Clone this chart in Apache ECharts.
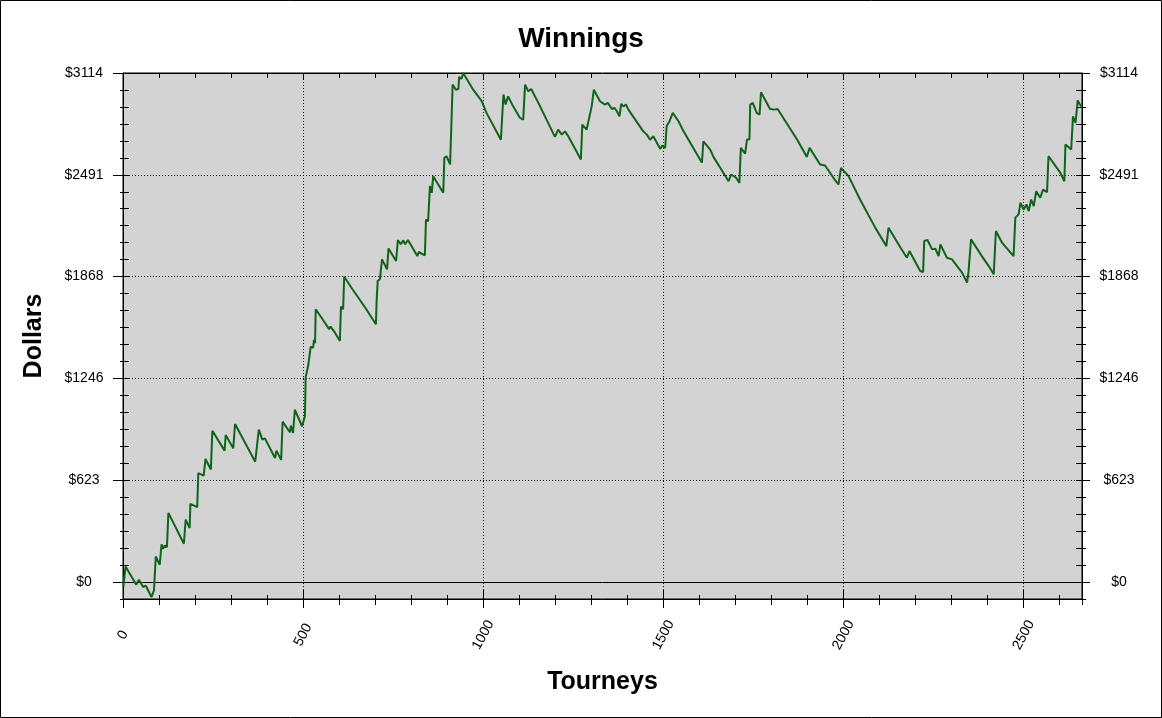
<!DOCTYPE html>
<html><head><meta charset="utf-8">
<script src="https://cdn.jsdelivr.net/npm/echarts@6/dist/echarts.min.js"></script>
<style>html,body{margin:0;padding:0;background:#fff}#c{width:1162px;height:718px}</style>
</head><body><div id="c"></div>
<script>
const chartTitle = 'Winnings';
const xName = 'Tourneys';
const yName = 'Dollars';
const tourneys = [1,7,37,44,56,63,72,79,86,90,91,102,107,111,116,122,126,169,174,185,187,206,209,224,229,244,248,282,285,306,311,367,377,387,394,422,426,439,443,463,466,472,477,497,505,507,511,514,519,521,528,530,533,535,539,560,572,576,588,602,605,611,614,637,642,674,678,702,704,707,713,719,733,737,758,763,771,778,783,791,817,821,838,841,847,852,857,861,889,892,898,908,915,924,931,933,940,944,958,972,986,996,1009,1049,1056,1062,1069,1083,1102,1111,1116,1125,1133,1153,1199,1208,1218,1227,1236,1271,1275,1287,1301,1307,1324,1338,1346,1357,1364,1371,1378,1383,1389,1396,1403,1444,1454,1463,1472,1491,1497,1505,1509,1517,1526,1542,1556,1607,1611,1630,1639,1681,1688,1702,1711,1715,1727,1732,1739,1741,1748,1759,1767,1771,1796,1808,1817,1833,1871,1898,1906,1935,1949,1972,1986,1993,2014,2046,2088,2119,2125,2158,2176,2183,2213,2221,2224,2233,2246,2255,2264,2269,2287,2301,2329,2343,2347,2354,2384,2406,2409,2417,2423,2440,2472,2477,2486,2491,2500,2508,2514,2521,2528,2535,2546,2554,2565,2569,2602,2613,2616,2632,2637,2644,2650,2656,2661];
const dollars = [-31,95,-16,14,-31,-21,-61,-92,-51,-61,156,106,230,203,223,214,423,234,382,330,478,458,666,651,753,688,926,804,899,818,967,736,932,871,879,759,804,747,981,916,956,912,1054,953,1014,1252,1246,1323,1313,1439,1435,1481,1461,1669,1669,1588,1547,1563,1527,1475,1685,1669,1868,1791,1801,1673,1665,1577,1719,1842,1852,1974,1913,2041,1964,2092,2066,2090,2066,2092,1994,2019,1999,2217,2207,2422,2381,2483,2381,2595,2605,2555,3043,3012,3016,3090,3078,3114,3063,3012,2971,2941,2870,2706,2982,2921,2971,2910,2839,2829,3043,3002,3016,2931,2723,2768,2737,2757,2727,2585,2798,2768,2910,3012,2941,2921,2931,2894,2900,2880,2849,2925,2910,2921,2890,2757,2737,2706,2727,2650,2670,2656,2788,2819,2870,2819,2757,2565,2696,2645,2601,2452,2493,2473,2442,2656,2621,2707,2707,2921,2931,2870,2860,2996,2894,2890,2894,2839,2707,2601,2656,2554,2548,2473,2432,2534,2483,2340,2168,2055,2168,2046,1984,2025,1903,1897,2086,2092,2035,2039,1994,2066,1984,1974,1893,1832,1897,2096,1994,1923,1933,1883,2147,2076,1994,2229,2249,2320,2279,2310,2269,2340,2300,2391,2351,2401,2385,2605,2503,2452,2676,2646,2849,2809,2947,2921,2910];
const xMajorTicks = [0, 500, 1000, 1500, 2000, 2500];
const yMajorTicks = [0, 622.8, 1245.6, 1868.4, 2491.2, 3114];
const xRange = [0, 2662];
const yRange = [-103.8, 3114];
const xMinorStep = 100;
const yMinorStep = 103.8;

const FONT = '"Liberation Sans", Arial, Helvetica, sans-serif';
const BLACK = '#000';
const DOT = { color: BLACK, width: 1, type: [1, 2] };

function xAx(o) {
  return Object.assign({
    type: 'value', min: xRange[0], max: xRange[1], position: 'bottom',
    axisLine: { show: false, onZero: false },
    axisTick: { show: false }, axisLabel: { show: false }, splitLine: { show: false }
  }, o);
}
function yAx(o) {
  return Object.assign({
    type: 'value', min: yRange[0], max: yRange[1], position: 'left',
    axisLine: { show: false, onZero: false },
    axisTick: { show: false }, axisLabel: { show: false }, splitLine: { show: false }
  }, o);
}
function tick(len, inside, extra) {
  return Object.assign({ show: true, inside: inside, length: len, lineStyle: { color: BLACK, width: 1 } }, extra || {});
}
const yLabel = (margin) => ({
  show: true, customValues: yMajorTicks, margin: margin, align: 'center', verticalAlign: 'middle',
  fontSize: 14, color: BLACK, fontFamily: FONT,
  formatter: v => '$' + Math.round(v)
});

const option = {
  animation: false,
  backgroundColor: '#fff',
  title: {
    text: chartTitle, left: 'center', top: 20,
    textStyle: { fontSize: 28, fontWeight: 'bold', fontFamily: FONT, color: BLACK }
  },
  grid: {
    left: 123, right: 80, top: 73, bottom: 119, show: true,
    backgroundColor: '#d3d3d3', borderColor: BLACK, borderWidth: 1
  },
  xAxis: [
    xAx({
      interval: 500,
      axisLine: { show: true, onZero: false, lineStyle: { color: BLACK, width: 1 } },
      axisTick: tick(9, false, { customValues: xMajorTicks }),
      axisLabel: {
        show: true, customValues: xMajorTicks, rotate: 62, align: 'center', verticalAlign: 'middle',
        margin: 36, fontSize: 14, color: BLACK, fontFamily: FONT,
        formatter: v => String(Math.round(v))
      },
      splitLine: { show: true, lineStyle: DOT },
      name: xName, nameLocation: 'middle', nameGap: 71,
      nameTextStyle: { fontSize: 25, fontWeight: 'bold', fontFamily: FONT, color: BLACK }
    }),
    xAx({ axisTick: tick(9, true, { customValues: xMajorTicks }) }),
    xAx({ interval: xMinorStep, axisTick: tick(6, false) }),
    xAx({ interval: xMinorStep, axisTick: tick(4, true) }),
    xAx({ position: 'top', interval: xMinorStep, axisTick: tick(5, true),
          axisLine: { show: true, onZero: false, lineStyle: { color: BLACK, width: 1 } } }),
    xAx({ position: 'top', axisTick: tick(7, true, { customValues: xMajorTicks }) }),
    xAx({ axisLine: { show: true, onZero: true, onZeroAxisIndex: 0, lineStyle: { color: BLACK, width: 1 } } })
  ],
  yAxis: [
    yAx({
      axisLine: { show: true, onZero: false, lineStyle: { color: BLACK, width: 1 } },
      axisTick: tick(10, false, { customValues: yMajorTicks }),
      axisLabel: yLabel(39),
      splitLine: { show: true, lineStyle: DOT },
      name: yName, nameLocation: 'middle', nameGap: 76,
      nameTextStyle: { fontSize: 25, fontWeight: 'bold', fontFamily: FONT, color: BLACK }
    }),
    yAx({ axisTick: tick(7, true, { customValues: yMajorTicks }) }),
    yAx({ interval: yMinorStep, axisTick: tick(3, false) }),
    yAx({ interval: yMinorStep, axisTick: tick(6, true) }),
    yAx({
      position: 'right',
      axisLine: { show: true, onZero: false, lineStyle: { color: BLACK, width: 1 } },
      axisTick: tick(8, false, { customValues: yMajorTicks }),
      axisLabel: yLabel(37)
    }),
    yAx({ position: 'right', axisTick: tick(6, true, { customValues: yMajorTicks }) }),
    yAx({ position: 'right', interval: yMinorStep, axisTick: tick(4, false) }),
    yAx({ position: 'right', interval: yMinorStep, axisTick: tick(6, true) })
  ],
  graphic: [{
    type: 'rect', silent: true, z: 100,
    shape: { x: 0.5, y: 0.5, width: 1161, height: 717 },
    style: { fill: 'none', stroke: BLACK, lineWidth: 1 }
  }],
  series: [{
    type: 'line', xAxisIndex: 0, yAxisIndex: 0, z: 5,
    data: tourneys.map((t, i) => [t, dollars[i]]),
    showSymbol: false, symbol: 'none',
    lineStyle: { color: '#0f6419', width: 2 },
    silent: true
  }]
};
const chart = echarts.init(document.getElementById('c'), null, { renderer: 'canvas' });
chart.setOption(option);
</script>
</body></html>
